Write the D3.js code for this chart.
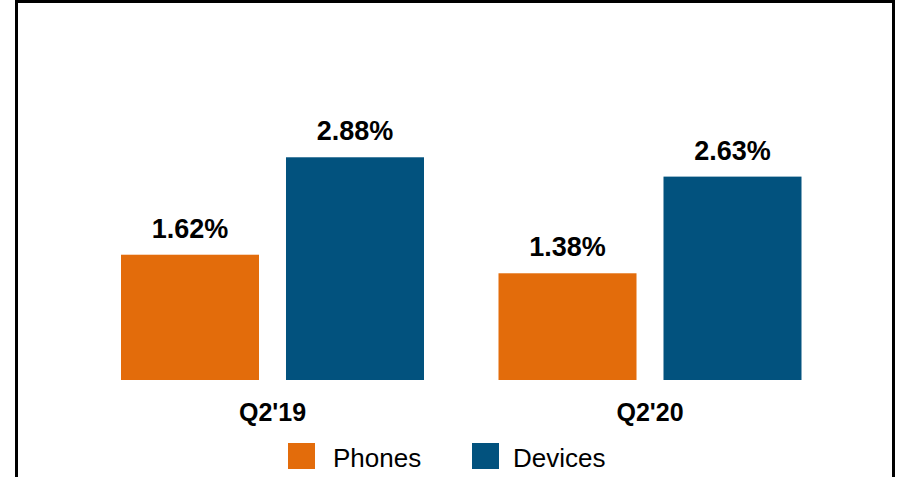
<!DOCTYPE html>
<html>
<head>
<meta charset="utf-8">
<script src="https://cdn.jsdelivr.net/npm/d3@7"></script>
<style>
  html, body { margin: 0; padding: 0; background: #fff; }
  svg { display: block; }
  text { font-family: "Liberation Sans", Arial, sans-serif; }
</style>
</head>
<body>
<svg id="chart" width="897" height="477"></svg>
<script>
// Quarter categories and the two series
const categories = ["Q2'19", "Q2'20"];
const seriesNames = ["Phones", "Devices"];
const phones = [1.62, 1.38];
const devices = [2.88, 2.63];
const seriesColors = ["#E36C0B", "#02527E"];

const svg = d3.select("#chart");

// Frame around the chart area (bottom edge runs past the view)
svg.append("rect")
  .attr("x", 16.5).attr("y", 1.5)
  .attr("width", 877).attr("height", 500)
  .attr("fill", "none")
  .attr("stroke", "#000")
  .attr("stroke-width", 3);

const baseline = 380;
const y = d3.scaleLinear().domain([0, 3]).range([baseline, baseline - 232]);

// Group centres per quarter
const x = d3.scalePoint().domain(categories).range([272.5, 650]);
// Offset of each series bar inside a group
const xs = d3.scaleBand().domain(seriesNames).range([-151.5, 151.5]).paddingInner(0.1636);

const rows = categories.map((c, i) => ({
  cat: c,
  values: [
    { name: seriesNames[0], value: phones[i], color: seriesColors[0] },
    { name: seriesNames[1], value: devices[i], color: seriesColors[1] }
  ]
}));

const groups = svg.selectAll("g.group")
  .data(rows)
  .join("g")
  .attr("class", "group")
  .attr("transform", d => `translate(${x(d.cat)},0)`);

groups.selectAll("rect")
  .data(d => d.values)
  .join("rect")
  .attr("x", d => xs(d.name))
  .attr("width", xs.bandwidth())
  .attr("y", d => y(d.value))
  .attr("height", d => baseline - y(d.value))
  .attr("fill", d => d.color);

groups.selectAll("text.val")
  .data(d => d.values)
  .join("text")
  .attr("class", "val")
  .attr("x", d => xs(d.name) + xs.bandwidth() / 2)
  .attr("y", d => y(d.value) - 17)
  .attr("text-anchor", "middle")
  .attr("font-size", 27)
  .attr("font-weight", "bold")
  .attr("fill", "#000")
  .text(d => d.value.toFixed(2) + "%");

// Category labels under the bars
svg.selectAll("text.cat")
  .data(categories)
  .join("text")
  .attr("class", "cat")
  .attr("x", d => x(d))
  .attr("y", 421)
  .attr("text-anchor", "middle")
  .attr("font-size", 25)
  .attr("font-weight", "bold")
  .attr("fill", "#000")
  .text(d => d);

// Legend
const legendX = [288, 472];
const legend = svg.selectAll("g.legend")
  .data(seriesNames)
  .join("g")
  .attr("class", "legend")
  .attr("transform", (d, i) => `translate(${legendX[i]},443)`);

legend.append("rect")
  .attr("width", 27).attr("height", 26)
  .attr("fill", (d, i) => seriesColors[i]);

legend.append("text")
  .attr("x", (d, i) => i === 0 ? 45 : 41).attr("y", 24)
  .attr("font-size", 26)
  .attr("fill", "#000")
  .text(d => d);
</script>
</body>
</html>
